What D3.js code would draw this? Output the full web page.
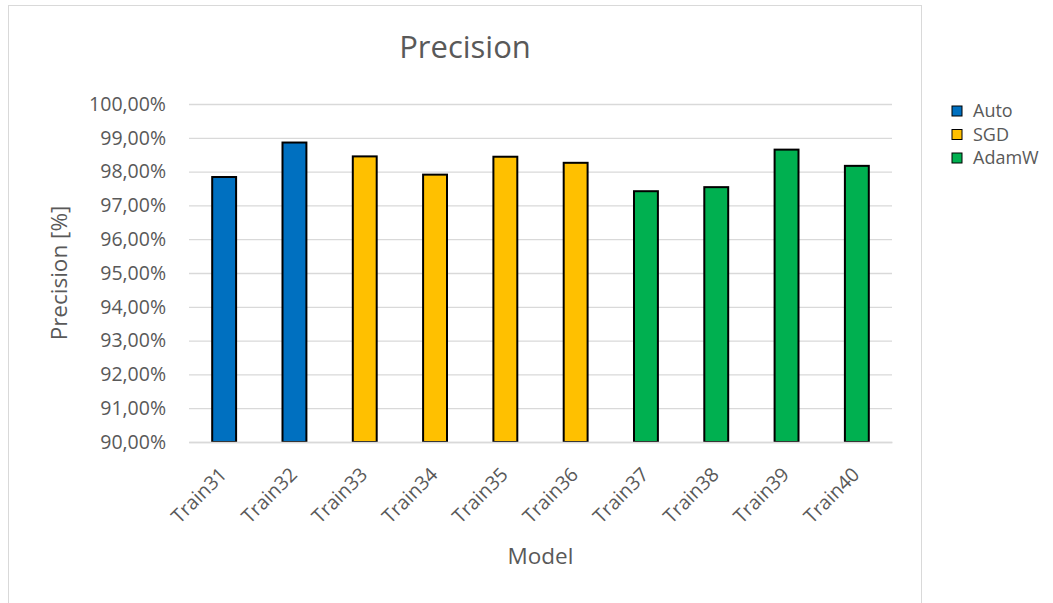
<!DOCTYPE html>
<html>
<head>
<meta charset="utf-8">
<script src="https://cdn.jsdelivr.net/npm/d3@7"></script>
<style>
  html, body { margin: 0; padding: 0; background: #ffffff; }
  svg { display: block; font-family: "Open Sans", "Noto Sans", sans-serif; }
</style>
</head>
<body>
<svg id="chart" width="1053" height="603"></svg>
<script>
// Precision per training run, grouped by optimizer
const models = ["Train31", "Train32", "Train33", "Train34", "Train35",
                "Train36", "Train37", "Train38", "Train39", "Train40"];
const precision = [97.84, 98.86, 98.45, 97.91, 98.44, 98.26, 97.42, 97.54, 98.65, 98.17];
const optimizer = ["Auto", "Auto", "SGD", "SGD", "SGD", "SGD", "AdamW", "AdamW", "AdamW", "AdamW"];
const seriesNames = ["Auto", "SGD", "AdamW"];
const seriesColors = ["#0070C0", "#FFC000", "#00B050"];
const yTicks = [90, 91, 92, 93, 94, 95, 96, 97, 98, 99, 100];

const svg = d3.select("#chart");
const textColor = "#595959";
const gridColor = "#d9d9d9";

const plot = { left: 189, right: 892, top: 104, bottom: 442 };

// Chart frame
svg.append("rect")
  .attr("x", 8.5).attr("y", 5.5)
  .attr("width", 913).attr("height", 620)
  .attr("fill", "#ffffff")
  .attr("stroke", gridColor).attr("stroke-width", 1);

const x = d3.scaleBand()
  .domain(models)
  .range([plot.left, plot.right])
  .paddingInner(0.66)
  .paddingOuter(0.33);

const y = d3.scaleLinear()
  .domain([90, 100])
  .range([plot.bottom, plot.top]);

const color = d3.scaleOrdinal().domain(seriesNames).range(seriesColors);

const fmt = v => d3.format(".2f")(v).replace(".", ",") + "%";

// Horizontal gridlines + y tick labels
const yAxis = d3.axisLeft(y)
  .tickValues(yTicks)
  .tickSize(-(plot.right - plot.left))
  .tickPadding(23)
  .tickFormat(fmt);

const gy = svg.append("g")
  .attr("transform", `translate(${plot.left},0)`)
  .call(yAxis);
gy.select(".domain").remove();
gy.selectAll(".tick line")
  .attr("stroke", gridColor).attr("stroke-width", 1.3);
gy.selectAll(".tick text")
  .attr("fill", textColor)
  .attr("font-size", 19.5)
  .attr("font-family", "Open Sans, sans-serif");

// Bars
svg.append("g")
  .selectAll("rect")
  .data(models)
  .join("rect")
  .attr("x", d => x(d))
  .attr("y", (d, i) => y(precision[i]))
  .attr("width", x.bandwidth())
  .attr("height", (d, i) => y(90) - y(precision[i]))
  .attr("fill", (d, i) => color(optimizer[i]))
  .attr("stroke", "#000000")
  .attr("stroke-width", 2);

// Category axis
const xAxis = d3.axisBottom(x).tickSize(0).tickPadding(0);
const gx = svg.append("g")
  .attr("transform", `translate(0,${plot.bottom})`)
  .call(xAxis);
gx.select(".domain")
  .attr("stroke", gridColor).attr("stroke-width", 1.3);
gx.selectAll(".tick text")
  .attr("fill", textColor)
  .attr("font-size", 19.5)
  .attr("font-family", "Open Sans, sans-serif")
  .attr("text-anchor", "end")
  .attr("y", 0)
  .attr("dy", "0.35em")
  .attr("transform", "translate(-1,29) rotate(-45)");

// Title
svg.append("text")
  .attr("x", 465).attr("y", 58)
  .attr("text-anchor", "middle")
  .attr("fill", textColor)
  .attr("font-size", 31)
  .text("Precision");

// Axis titles
svg.append("text")
  .attr("x", (plot.left + plot.right) / 2).attr("y", 564)
  .attr("text-anchor", "middle")
  .attr("fill", textColor)
  .attr("font-size", 22.5)
  .text("Model");

svg.append("text")
  .attr("transform", `translate(67,${(plot.top + plot.bottom) / 2}) rotate(-90)`)
  .attr("text-anchor", "middle")
  .attr("fill", textColor)
  .attr("font-size", 22.5)
  .text("Precision [%]");

// Legend
const legend = svg.append("g").attr("transform", "translate(952,111)");
const items = legend.selectAll("g")
  .data(seriesNames)
  .join("g")
  .attr("transform", (d, i) => `translate(0,${i * 23.5})`);
items.append("rect")
  .attr("x", 0).attr("y", -5)
  .attr("width", 10).attr("height", 10)
  .attr("fill", d => color(d))
  .attr("stroke", "#000000").attr("stroke-width", 1);
items.append("text")
  .attr("x", 21).attr("y", 0)
  .attr("dy", "0.35em")
  .attr("fill", textColor)
  .attr("font-size", 18)
  .text(d => d);
</script>
</body>
</html>
